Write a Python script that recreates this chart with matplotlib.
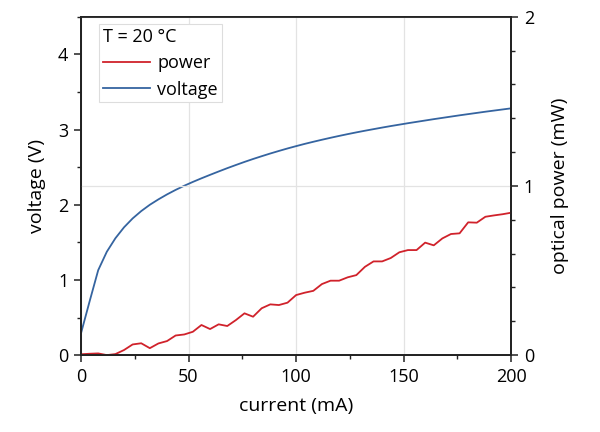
import numpy as np
import matplotlib
matplotlib.use("Agg")
import matplotlib.pyplot as plt
from matplotlib.ticker import MultipleLocator

plt.rcParams['font.family'] = ['Open Sans', 'DejaVu Sans']

current = np.arange(0, 201, 4)  # mA

voltage = [0.290, 0.715, 1.130, 1.375, 1.555, 1.700, 1.818, 1.916, 2.000, 2.072,
           2.138, 2.198, 2.253, 2.304, 2.352, 2.398, 2.443, 2.487, 2.529, 2.570,
           2.609, 2.646, 2.682, 2.716, 2.749, 2.780, 2.810, 2.838, 2.865, 2.891,
           2.916, 2.940, 2.963, 2.985, 3.006, 3.027, 3.047, 3.066, 3.085, 3.103,
           3.121, 3.139, 3.156, 3.173, 3.190, 3.206, 3.222, 3.238, 3.253, 3.268,
           3.283]

power = [0.005, 0.008, 0.010, 0.000, 0.006, 0.030, 0.063, 0.070, 0.041, 0.069,
         0.083, 0.116, 0.122, 0.138, 0.178, 0.154, 0.182, 0.172, 0.207, 0.247,
         0.227, 0.277, 0.300, 0.296, 0.310, 0.355, 0.369, 0.380, 0.420, 0.440,
         0.440, 0.460, 0.473, 0.522, 0.554, 0.554, 0.574, 0.608, 0.621, 0.621,
         0.665, 0.649, 0.690, 0.716, 0.720, 0.785, 0.783, 0.818, 0.826, 0.833,
         0.842]

red = '#d0222b'
blue = '#3564a0'

fig = plt.figure(figsize=(6, 4.32), dpi=100)
ax = fig.add_axes([0.135, 0.178, 0.717, 0.783])
ax2 = ax.twinx()

lv, = ax.plot(current, voltage, color=blue, lw=1.3, label='voltage')
lp, = ax2.plot(current, power, color=red, lw=1.3, label='power')

ax.set_xlim(0, 200)
ax.set_ylim(0, 4.5)
ax2.set_ylim(0, 2)

ax.xaxis.set_major_locator(MultipleLocator(50))
ax.xaxis.set_minor_locator(MultipleLocator(25))
ax.yaxis.set_major_locator(MultipleLocator(1))
ax.yaxis.set_minor_locator(MultipleLocator(0.5))
ax2.yaxis.set_major_locator(MultipleLocator(1))
ax2.yaxis.set_minor_locator(MultipleLocator(0.2))

for a in (ax, ax2):
    a.tick_params(which='major', direction='out', length=5, width=1.1,
                  labelsize=13, pad=4, color='#222222')
    a.tick_params(which='minor', direction='out', length=3, width=1.0,
                  color='#222222')
    for s in a.spines.values():
        s.set_linewidth(1.3)
        s.set_color('#222222')
ax.tick_params(top=False, which='both')

ax.grid(axis='x', color='#e3e3e3', lw=0.9)
ax.set_axisbelow(True)
ax2.grid(axis='y', color='#e3e3e3', lw=0.9)
ax2.set_axisbelow(True)

ax.set_xlabel('current (mA)', fontsize=14, labelpad=8)
ax.set_ylabel('voltage (V)', fontsize=14, labelpad=9)
ax2.set_ylabel('optical power (mW)', fontsize=14, labelpad=12)

leg = ax2.legend(handles=[lp, lv], title='T = 20 °C', loc='upper left',
                 bbox_to_anchor=(0.042, 0.978), fontsize=13, title_fontsize=13,
                 alignment='left', fancybox=False, edgecolor='#dddddd',
                 framealpha=1, handlelength=2.6, borderpad=0.22,
                 labelspacing=0.45, handletextpad=0.4, borderaxespad=0)
leg.get_frame().set_linewidth(0.8)

fig.savefig('out.png', dpi=100)
